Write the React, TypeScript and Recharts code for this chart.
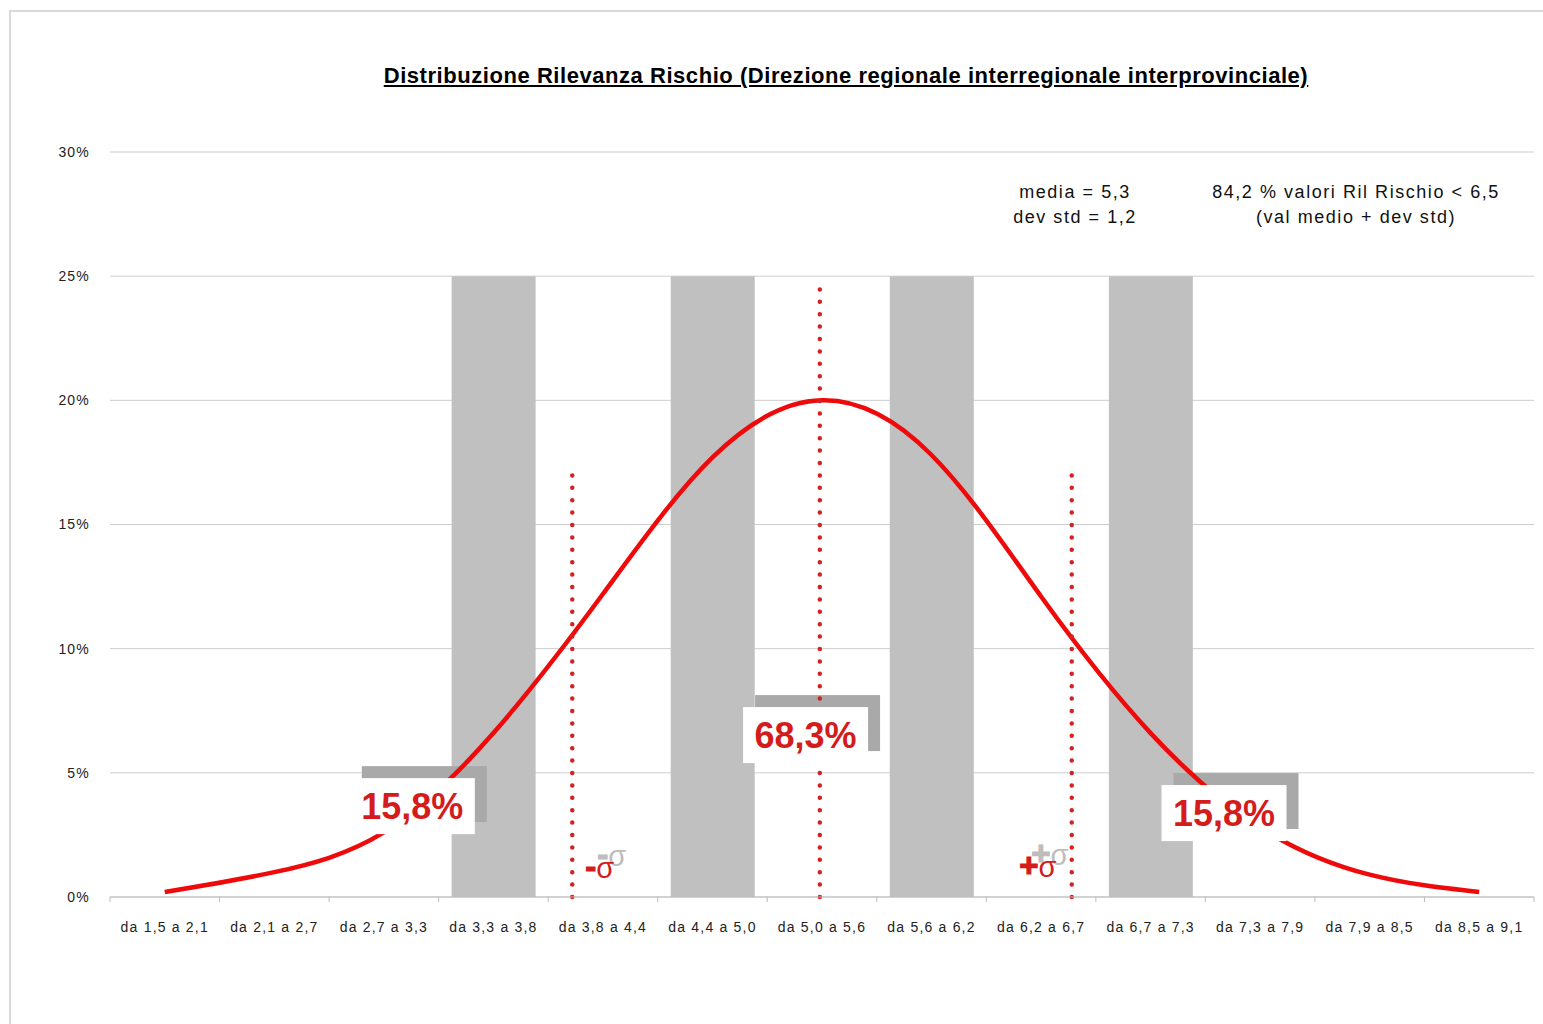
import React from 'react';
import {
  ComposedChart,
  Bar,
  Line,
  XAxis,
  YAxis,
  CartesianGrid,
  ReferenceLine,
  ReferenceDot,
} from 'recharts';

// ---- data ----
const categories = [
  'da 1,5 a 2,1', 'da 2,1 a 2,7', 'da 2,7 a 3,3', 'da 3,3 a 3,8', 'da 3,8 a 4,4',
  'da 4,4 a 5,0', 'da 5,0 a 5,6', 'da 5,6 a 6,2', 'da 6,2 a 6,7', 'da 6,7 a 7,3',
  'da 7,3 a 7,9', 'da 7,9 a 8,5', 'da 8,5 a 9,1',
];
const bandValues = [0, 0, 0, 25, 0, 25, 0, 25, 0, 25, 0, 0, 0];
const curveValues = [0.2, 1.0, 2.6, 6.6, 12.2, 17.7, 20.0, 17.8, 12.1, 6.6, 2.8, 0.9, 0.2];
const yTicks = [0, 5, 10, 15, 20, 25, 30];
// positions below are in category-index units (0 = centre of first category)
const boundaryTicks = [-0.5, 0.5, 1.5, 2.5, 3.5, 4.5, 5.5, 6.5, 7.5, 8.5, 9.5, 10.5, 11.5, 12.5];
const sigmaLinePos = [3.72, 5.98, 8.28];
const sigmaLineTop = [17.2, 24.5, 17.2];
const shareLabelPos = [2.26, 5.85, 9.67];
const shareLabelY = [3.66, 6.52, 3.38];
const shareLabelText = ['15,8%', '68,3%', '15,8%'];
const sigmaLabelPos = [3.97, 7.97];
const sigmaLabelY = [1.13, 1.17];
const sigmaSign = ['-', '+'];
const titleText = 'Distribuzione Rilevanza Rischio (Direzione regionale interregionale interprovinciale)';
const statsLines = ['media = 5,3', 'dev std = 1,2'];
const noteLines = ['84,2 % valori Ril Rischio < 6,5', '(val medio + dev std)'];

const W = 1543;
const H = 1024;
const FONT = '"Liberation Sans", Arial, Helvetica, sans-serif';
const RED = '#ee0a0a';
const LABEL_RED = '#d41c1c';
const BOX_W = 125;
const BOX_H = 56;

const ShareShadow = (props: any) => {
  const { cx, cy } = props;
  return <rect x={cx - BOX_W / 2 + 12} y={cy - BOX_H / 2 - 12} width={BOX_W} height={BOX_H} fill="#a9a9a9" />;
};

const ShareLabel = (text: string) => (props: any) => {
  const { cx, cy } = props;
  return (
    <g>
      <rect x={cx - BOX_W / 2} y={cy - BOX_H / 2} width={BOX_W} height={BOX_H} fill="#ffffff" />
      <text
        x={cx}
        y={cy + 13}
        textAnchor="middle"
        fontFamily={FONT}
        fontWeight="bold"
        fontSize={36}
        fill={LABEL_RED}
      >
        {text}
      </text>
    </g>
  );
};

const SigmaLabel = (sign: string) => (props: any) => {
  const { cx, cy } = props;
  const parts = (fill: string) => [
    <tspan key="s" fontWeight="bold" fontSize={33} fill={fill} stroke={fill} strokeWidth={1.2}>
      {sign}
    </tspan>,
    <tspan key="g" fontWeight="normal" fontSize={29} fill={fill}>
      σ
    </tspan>,
  ];
  return (
    <g>
      <text x={cx + 12} y={cy - 3} textAnchor="middle" fontFamily={FONT}>
        {parts('#bdbdbd')}
      </text>
      <text x={cx} y={cy + 9} textAnchor="middle" fontFamily={FONT}>
        {parts(LABEL_RED)}
      </text>
    </g>
  );
};

export default function App() {
  const data = categories.map((c, i) => ({ cat: c, idx: i, band: bandValues[i], curve: curveValues[i] }));
  const tickStyle = { fontSize: 14, fill: '#222', letterSpacing: 1.2, fontFamily: FONT };
  const noteStyle: React.CSSProperties = {
    position: 'absolute',
    top: 180,
    textAlign: 'center',
    fontSize: 18,
    lineHeight: '25px',
    color: '#111',
    letterSpacing: 1.55,
    whiteSpace: 'nowrap',
  };
  return (
    <div
      style={{
        position: 'absolute',
        left: 0,
        top: 0,
        width: W,
        height: H,
        background: '#fff',
        overflow: 'hidden',
        fontFamily: FONT,
      }}
    >
      <div
        style={{
          position: 'absolute',
          left: 9,
          top: 10,
          width: W,
          height: H,
          borderLeft: '2px solid #d9d9d9',
          borderTop: '2px solid #d9d9d9',
        }}
      />
      <div
        style={{
          position: 'absolute',
          left: 346,
          top: 63,
          width: 1000,
          textAlign: 'center',
          fontWeight: 'bold',
          fontSize: 22,
          letterSpacing: 0.55,
          textDecoration: 'underline',
          color: '#000',
          whiteSpace: 'nowrap',
        }}
      >
        {titleText}
      </div>
      <div style={{ ...noteStyle, left: 925, width: 300 }}>
        {statsLines.map((l) => (
          <div key={l}>{l}</div>
        ))}
      </div>
      <div style={{ ...noteStyle, left: 1156, width: 400 }}>
        {noteLines.map((l) => (
          <div key={l}>{l}</div>
        ))}
      </div>
      <ComposedChart
        width={W}
        height={H}
        data={data}
        margin={{ top: 152, right: 9, bottom: 87, left: 10 }}
        style={{ position: 'absolute', left: 0, top: 0 }}
      >
        <CartesianGrid xAxisId="cat" vertical={false} stroke="#cdcdcd" />
        <XAxis
          xAxisId="cat"
          dataKey="cat"
          height={40}
          interval={0}
          axisLine={{ stroke: '#bdbdbd' }}
          tickLine={false}
          tickMargin={19}
          tick={tickStyle}
        />
        <XAxis
          xAxisId="num"
          dataKey="idx"
          type="number"
          domain={[-0.5, 12.5]}
          allowDataOverflow
          hide
        />
        <YAxis
          domain={[0, 30]}
          ticks={yTicks}
          tickFormatter={(v: number) => `${v}%`}
          width={100}
          axisLine={false}
          tickLine={false}
          tickMargin={14}
          tick={tickStyle}
        />
        <Bar xAxisId="cat" dataKey="band" fill="#c0c0c0" barSize={84} isAnimationActive={false} />
        {boundaryTicks.map((b) => (
          <ReferenceLine
            key={`bt${b}`}
            xAxisId="num"
            ifOverflow="visible"
            segment={[
              { x: b, y: 0 },
              { x: b, y: -0.2 },
            ]}
            stroke="#bdbdbd"
          />
        ))}
        {shareLabelPos.map((x, i) => (
          <ReferenceDot
            key={`sh${i}`}
            xAxisId="num"
            x={x}
            y={shareLabelY[i]}
            r={1}
            ifOverflow="visible"
            zIndex={350}
            shape={ShareShadow}
          />
        ))}
        <Line
          xAxisId="cat"
          type="natural"
          dataKey="curve"
          stroke={RED}
          strokeWidth={4.5}
          dot={false}
          activeDot={false}
          isAnimationActive={false}
        />
        {shareLabelPos.map((x, i) => (
          <ReferenceDot
            key={`sl${i}`}
            xAxisId="num"
            x={x}
            y={shareLabelY[i]}
            r={1}
            ifOverflow="visible"
            shape={ShareLabel(shareLabelText[i])}
          />
        ))}
        {sigmaLinePos.map((x, i) => (
          <ReferenceLine
            key={`sg${i}`}
            xAxisId="num"
            ifOverflow="visible"
            segment={[
              { x, y: 0 },
              { x, y: sigmaLineTop[i] },
            ]}
            stroke="#d42222"
            strokeWidth={4.5}
            strokeDasharray="0 12.4"
            strokeLinecap="round"
          />
        ))}
        {sigmaLabelPos.map((x, i) => (
          <ReferenceDot
            key={`sgl${i}`}
            xAxisId="num"
            x={x}
            y={sigmaLabelY[i]}
            r={1}
            ifOverflow="visible"
            shape={SigmaLabel(sigmaSign[i])}
          />
        ))}
      </ComposedChart>
    </div>
  );
}
